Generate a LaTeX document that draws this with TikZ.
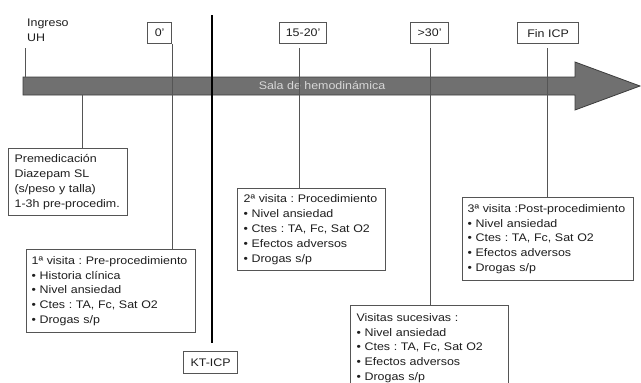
\documentclass[tikz,border=0pt]{standalone}
\usepackage{fontspec}
\setmainfont[FakeStretch=1.13]{Liberation Sans}
\frenchspacing
\definecolor{boxgray}{HTML}{555555}
\definecolor{txt}{HTML}{1E1E1E}
\definecolor{arrfill}{HTML}{707070}
\definecolor{arrdraw}{HTML}{3C3C3C}
\definecolor{arrtxt}{HTML}{D8D8D8}
\begin{document}
\begin{tikzpicture}[x=1pt,y=-1pt,
  every node/.style={font=\frenchspacing\fontsize{11}{14.8}\selectfont, text=txt},
  tlabel/.style={draw=boxgray, line width=1.2pt, inner sep=0pt, anchor=north west, align=center},
  infobox/.style={draw=boxgray, line width=1.2pt, anchor=north west, align=left, inner xsep=5pt, inner ysep=0pt},
  conn/.style={draw=boxgray, line width=1pt},
]
\clip (0,0) rectangle (641,383);
\fill[white] (0,0) rectangle (641,383);

% timeline arrow
\draw[fill=arrfill, draw=arrdraw, line width=0.8pt]
  (23,77) -- (575,77) -- (575,62) -- (640,86) -- (575,110) -- (575,95) -- (23,95) -- cycle;
\node[text=arrtxt] (sala) at (322,86) {Sala de hemodinámica};

% top labels
\node[anchor=west, inner sep=0pt, align=left] (ing) at (27,30.5) {Ingreso\\UH};
\node[tlabel, minimum width=24pt, minimum height=21pt] (t0) at (147,22) {0'};
\node[tlabel, minimum width=47pt, minimum height=21pt] (t15) at (279,22) {15-20'};
\node[tlabel, minimum width=38pt, minimum height=21pt] (t30) at (410,22) {>30'};
\node[tlabel, minimum width=61pt, minimum height=21pt] (tfin) at (517,22) {Fin ICP};
\node[tlabel, minimum width=54pt, minimum height=22pt] (kt) at (183,351) {KT-ICP};

% info boxes
\node[infobox, inner xsep=6pt, minimum width=119pt, minimum height=67pt, text width=107pt] (pre) at (8,148)
  {Premedicación\\Diazepam SL\\(s/peso y talla)\\1-3h pre-procedim.};
\node[infobox, minimum width=169pt, minimum height=83pt, text width=159pt] (v1) at (26,249)
  {1ª visita : Pre-procedimiento\\• Historia clínica\\• Nivel ansiedad\\• Ctes : TA, Fc, Sat O2\\• Drogas s/p};
\node[infobox, inner xsep=6pt, minimum width=148pt, minimum height=82pt, text width=136pt] (v2) at (237,188)
  {2ª visita : Procedimiento\\• Nivel ansiedad\\• Ctes : TA, Fc, Sat O2\\• Efectos adversos\\• Drogas s/p};
\node[infobox, minimum width=171pt, minimum height=83pt, text width=161pt] (v3) at (462,197)
  {3ª visita :Post-procedimiento\\• Nivel ansiedad\\• Ctes : TA, Fc, Sat O2\\• Efectos adversos\\• Drogas s/p};
\node[infobox, inner xsep=6pt, minimum width=158pt, minimum height=85pt, text width=146pt] (vs) at (350,305)
  {Visitas sucesivas :\\• Nivel ansiedad\\• Ctes : TA, Fc, Sat O2\\• Efectos adversos\\• Drogas s/p};

% connectors
\coordinate (ingTop) at (25,48);
\coordinate (ingBot) at (25,77);
\draw[conn] (ingTop) -- (ingBot);
\coordinate (preTop) at (82,95);
\draw[conn] (preTop) -- (preTop |- pre.north);
\draw[conn] (t0.south east) -- (t0.south east |- v1.north);
\coordinate (c15) at (299,43);
\draw[conn, shorten <=5pt] (c15) -- (c15 |- v2.north);
\coordinate (c30) at (430,43);
\draw[conn, shorten <=5pt] (c30) -- (c30 |- vs.north);
\coordinate (cfin) at (547,43);
\draw[conn, shorten <=5pt] (cfin) -- (cfin |- v3.north);

% KT-ICP thick line
\coordinate (ktTop) at (212,15);
\draw[line width=2.4pt, black] (ktTop) -- (ktTop |- 0,343);
\end{tikzpicture}
\end{document}
